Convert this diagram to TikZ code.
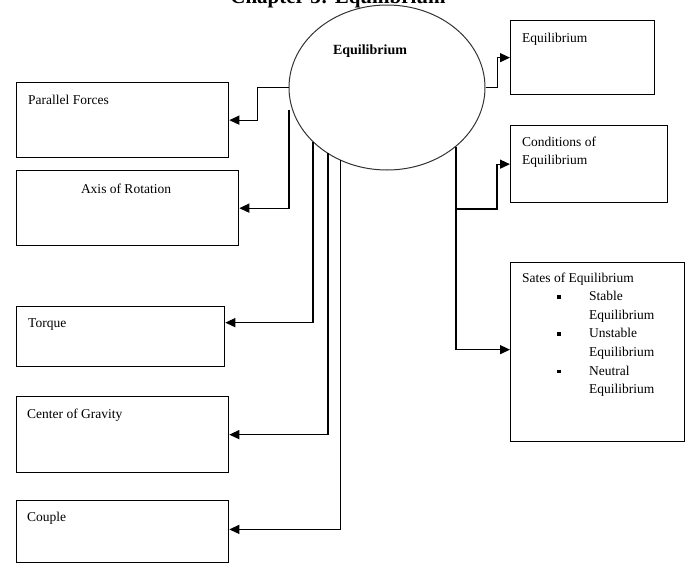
\documentclass[tikz,border=0pt]{standalone}
\usepackage{fontspec}
\setmainfont{Liberation Serif}
\usetikzlibrary{arrows.meta,calc,shapes.geometric}

\begin{document}
\begin{tikzpicture}[x=1pt,y=-1pt,
  box/.style={draw=black,line width=1.3pt,rectangle,anchor=north west,inner sep=0pt},
  lbl/.style={font=\fontsize{13.5}{16}\selectfont,anchor=base west,inner sep=0pt},
  arr/.style={draw=black,line width=1.3pt,-{Triangle[length=10pt,width=9pt]}},
  link/.style={draw=black,line width=1.3pt},
  bul/.style={fill=black,minimum size=3.8pt,inner sep=0pt}]

\useasboundingbox (0,0) rectangle (686,563);

% heading, mostly above the page edge
\node[font=\bfseries\fontsize{21}{21}\selectfont,anchor=base,inner sep=0pt] (title) at (338,3) {Chapter 3: Equilibrium};

% central ellipse
\node[ellipse,draw=black!80,line width=1pt,minimum width=196pt,minimum height=165pt,inner sep=0pt] (eq) at (387,87.5) {};
\node[font=\bfseries\fontsize{14}{16}\selectfont,anchor=base,inner sep=0pt] (eqlbl) at (370,54) {Equilibrium};

% left column of boxes
\node[box,minimum width=212pt,minimum height=75pt] (pf) at (16,82) {};
\node[lbl] (pft) at (28,104) {Parallel Forces};

\node[box,minimum width=222pt,minimum height=75pt] (ax) at (16,170) {};
\node[lbl,anchor=base] (axt) at (126,193) {Axis of Rotation};

\node[box,minimum width=208pt,minimum height=60pt] (tq) at (16,306) {};
\node[lbl] (tqt) at (28,327) {Torque};

\node[box,minimum width=212pt,minimum height=76pt] (cg) at (16,396) {};
\node[lbl] (cgt) at (27,418) {Center of Gravity};

\node[box,minimum width=212pt,minimum height=61.5pt] (cp) at (16,500) {};
\node[lbl] (cpt) at (27,521) {Couple};

% right column of boxes
\node[box,minimum width=144pt,minimum height=74pt] (eb) at (510,20) {};
\node[lbl] (ebt) at (522,42) {Equilibrium};

\node[box,minimum width=157pt,minimum height=77pt] (cd) at (510,125) {};
\node[lbl,align=left,anchor=north west] (cdt) at (522,137) {Conditions of\\[2pt]Equilibrium};

\node[box,minimum width=174pt,minimum height=179pt] (st) at (510,262) {};
\node[lbl] (stt) at (522,282) {Sates of Equilibrium};
\node[lbl] (s1) at (589,300.5) {Stable};
\node[lbl] (s2) at (589,319) {Equilibrium};
\node[lbl] (s3) at (589,337.5) {Unstable};
\node[lbl] (s4) at (589,356) {Equilibrium};
\node[lbl] (s5) at (589,375) {Neutral};
\node[lbl] (s6) at (589,393.5) {Equilibrium};
\node[bul] (b1) at (559,297) {};
\node[bul] (b2) at (559,334) {};
\node[bul] (b3) at (559,371.5) {};

% points where the connectors leave the ellipse
\coordinate (e1) at (289,110);
\coordinate (e2) at (313,141.5);
\coordinate (e3) at (328,153);
\coordinate (e4) at (340.5,160);
\coordinate (e5) at (456,146.5);
\coordinate (fork) at (456,209);

% connectors
\draw[arr] (eq.west) -- ++(-31,0) |- (pf.east);
\draw[arr] (e1) |- (ax.east);
\draw[arr] (e2) |- ([yshift=14pt]tq.east);
\draw[arr] (e3) |- (cg.east);
\draw[arr] (e4) |- ([yshift=2pt]cp.east);
\draw[arr] (eq.east) -- ++(12,0) |- (eb.west);
\draw[link] (e5) -- (fork);
\draw[arr] (fork) -- ++(41,0) |- (cd.west);
\draw[arr] (fork) |- ([yshift=2.5pt]st.west);

\end{tikzpicture}
\end{document}
